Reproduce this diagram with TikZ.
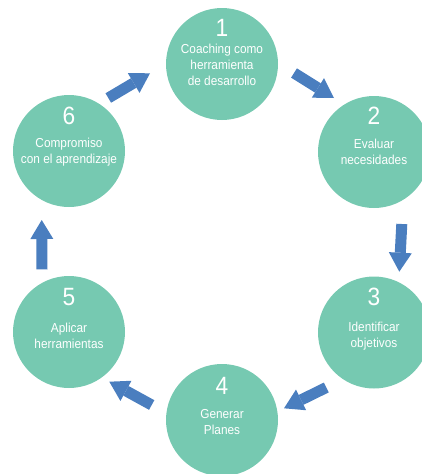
\documentclass[tikz,border=0pt]{standalone}
\usepackage{fontspec}
\setmainfont{Liberation Sans}[FakeStretch=0.91]
\usetikzlibrary{calc,arrows.meta}
\definecolor{stagefill}{HTML}{76C9B1}
\definecolor{flowblue}{HTML}{4A7EBF}
\begin{document}
\begin{tikzpicture}[x=1pt,y=-1pt,
  stage/.style={circle,fill=stagefill,draw=none,minimum size=112pt,inner sep=0pt},
  stepnum/.style={text=white,inner sep=0pt,anchor=base,font={\fontsize{25}{28}\selectfont}},
  steptext/.style={text=white,inner sep=0pt,anchor=north,align=center,font={\fontsize{13}{16.3}\selectfont}},
  flow/.style={draw=flowblue,line width=11pt,-{Triangle[width=23pt,length=19pt,line width=0pt]}}]
\useasboundingbox (0,0) rectangle (422,474);
\clip (0,0) rectangle (422,474);

% stages of the cycle
\node[stage] (c1) at (222,64) {};
\node[stage] (c2) at (374,152) {};
\node[stage] (c3) at (374,332.5) {};
\node[stage] (c4) at (222,420) {};
\node[stage] (c5) at (69,332) {};
\node[stage] (c6) at (69,151) {};

% numbers
\node[stepnum] (n1) at ($(c1)+(0,-28)$) {1};
\node[stepnum] (n2) at ($(c2)+(0,-28)$) {2};
\node[stepnum] (n3) at ($(c3)+(0,-27.5)$) {3};
\node[stepnum] (n4) at ($(c4)+(0,-26)$) {4};
\node[stepnum] (n5) at ($(c5)+(0,-26.3)$) {5};
\node[stepnum] (n6) at ($(c6)+(0,-27)$) {6};

% descriptions
\node[steptext] (t1) at ($(c1)+(0,-20.5)$) {Coaching como\\herramienta\\de desarrollo};
\node[steptext] (t2) at ($(c2)+(0,-13.2)$) {Evaluar\\necesidades};
\node[steptext] (t3) at ($(c3)+(0,-10.5)$) {Identificar\\objetivos};
\node[steptext] (t4) at ($(c4)+(0,-11.2)$) {Generar\\Planes};
\node[steptext] (t5) at ($(c5)+(0,-9.2)$) {Aplicar\\herramientas};
\node[steptext] (t6) at ($(c6)+(0,-13.2)$) {Compromiso\\con el aprendizaje};

% arrow ends between the stages
\coordinate (a12) at (294,73);    \coordinate (b12) at (334,98);
\coordinate (a23) at (401.8,224); \coordinate (b23) at (399.3,271.7);
\coordinate (a34) at (326.3,387.5); \coordinate (b34) at (284,408.3);
\coordinate (a45) at (151.7,405); \coordinate (b45) at (109.3,381.7);
\coordinate (a56) at (42,269.3);  \coordinate (b56) at (41.7,220);
\coordinate (a61) at (108.3,98);  \coordinate (b61) at (150,73.3);

\draw[flow] (a12) -- (b12);
\draw[flow] (a23) -- (b23);
\draw[flow] (a34) -- (b34);
\draw[flow] (a45) -- (b45);
\draw[flow] (a56) -- (b56);
\draw[flow] (a61) -- (b61);
\end{tikzpicture}
\end{document}
